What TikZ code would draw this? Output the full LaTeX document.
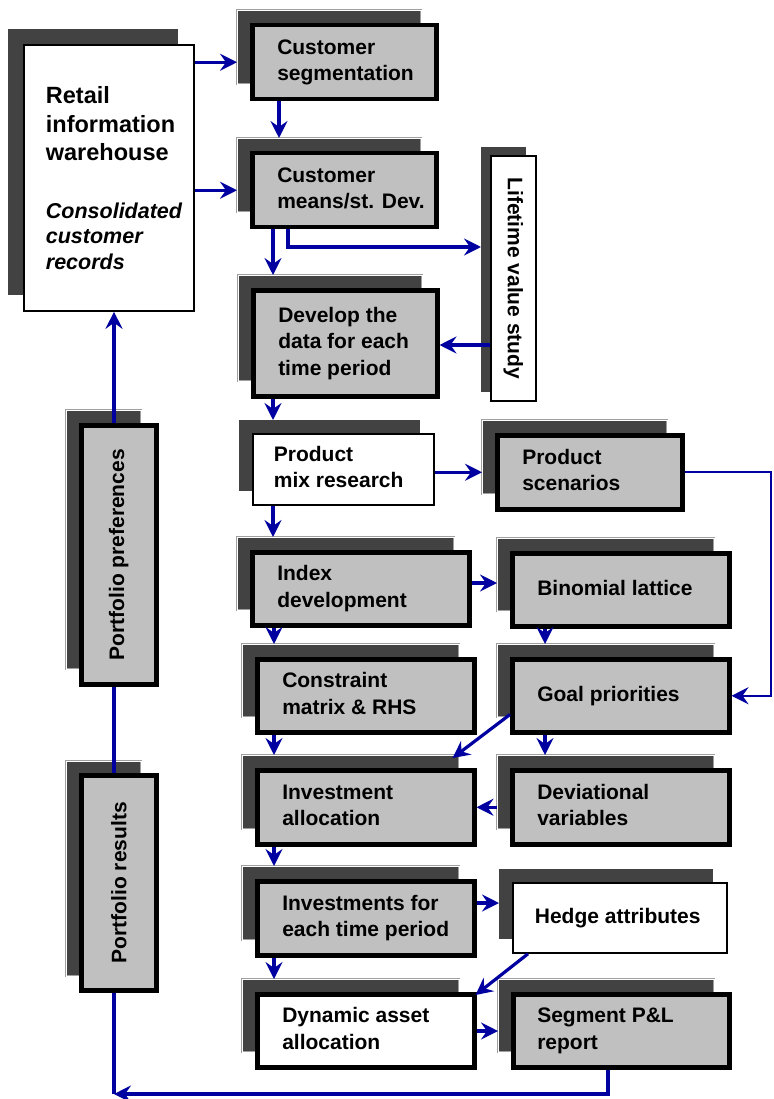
\documentclass[tikz,border=0pt]{standalone}
\usepackage{fontspec}
\setmainfont{Liberation Sans}
\usepackage{graphicx}
\usetikzlibrary{arrows.meta,calc}
\definecolor{navy}{RGB}{0,0,160}
\definecolor{boxgray}{RGB}{192,192,192}
\definecolor{shd}{RGB}{66,66,66}
\tikzset{
  txt/.style={font=\bfseries\fontsize{21}{26.5}\selectfont, inner ysep=0pt},
  gbox/.style={txt, draw=black, line width=4.5pt, fill=boxgray},
  wbox/.style={txt, draw=black, line width=1.8pt, fill=white},
  wboxk/.style={txt, draw=black, line width=4.5pt, fill=white},
  shp/.style={fill=shd, draw=none, inner sep=0pt},
  shl/.style={fill=shd, draw=gray!75, line width=0.6pt, double=white, double distance=0.8pt, inner sep=0pt},
  conn/.style={draw=navy, line width=3.2pt},
  thinconn/.style={draw=navy, line width=2.4pt},
  arr/.style={conn, -{Stealth[length=17pt,width=17pt,inset=6pt]}},
  thinarr/.style={thinconn, -{Stealth[length=17pt,width=17pt,inset=6pt]}}
}
% #1 name, #2 front style, #3 shadow style, #4 x, #5 y, #6 w, #7 h, #8 inset, #9 text
\newcommand\mkbox[9]{%
  \node[#3, minimum width=#6pt, minimum height=#7pt, anchor=north west] (#1s) at (#4-13,#5-13) {};
  \node[#2, minimum width=#6pt, minimum height=#7pt, inner xsep=#8pt, anchor=north west] (#1) at (#4,#5)
    {\makebox[\dimexpr #6pt-#8pt-#8pt\relax][l]{\begin{tabular}{@{}l@{}}#9\end{tabular}}};
}
\begin{document}
\begin{tikzpicture}[x=1pt,y=-1pt]
\useasboundingbox (0,0) rectangle (773,1099);

% warehouse
\node[shp, minimum width=170pt, minimum height=266pt, anchor=north west] (As) at (8,29) {};
\node[wbox, minimum width=170pt, minimum height=266pt, inner xsep=22pt, anchor=north west] (A) at (23,44)
  {\makebox[126pt][l]{\parbox{150pt}{\raggedright\fontsize{23.5}{28.5}\selectfont Retail\\information\\warehouse\par
   \vspace{32pt}\fontsize{21.5}{25.5}\selectfont\itshape Consolidated\\customer\\records\par}}};

\mkbox{B}{gbox}{shl}{250}{23}{184}{74}{25}{Customer\\segmentation}
\mkbox{C}{gbox}{shl}{250}{151}{184}{74}{25}{Customer\\means/st. Dev.}

% lifetime value study
\node[shp, minimum width=45pt, minimum height=245pt, anchor=north west] (Ds) at (481,147) {};
\node[wbox, minimum width=45pt, minimum height=245pt, anchor=north west] (D) at (490,155)
  {\rotatebox{-90}{Lifetime value study}};

\mkbox{E}{gbox}{shl}{251}{288}{184}{106}{25}{Develop the\\data for each\\time period}
\mkbox{F}{wbox}{shp}{252}{433}{181}{71}{21}{Product\\mix research}
\mkbox{G}{gbox}{shl}{495}{433}{185}{74}{25}{Product\\scenarios}
\mkbox{H}{gbox}{shl}{250}{550}{217}{73}{25}{Index\\development}
\mkbox{I}{gbox}{shl}{510}{551}{217}{73}{25}{Binomial lattice}
\mkbox{J}{gbox}{shl}{255}{657}{217}{73}{25}{Constraint\\matrix \& RHS}
\mkbox{K}{gbox}{shl}{510}{657}{217}{73}{25}{Goal priorities}
\mkbox{L}{gbox}{shl}{255}{768}{217}{74}{25}{Investment\\allocation}
\mkbox{M}{gbox}{shl}{510}{768}{217}{74}{25}{Deviational\\variables}
\mkbox{N}{gbox}{shl}{255}{879}{217}{74}{25}{Investments for\\each time period}
\mkbox{O}{wbox}{shp}{512}{882}{214}{70}{22}{Hedge attributes}
\mkbox{P}{wboxk}{shl}{255}{992}{217}{73}{25}{Dynamic asset\\allocation}
\mkbox{Q}{gbox}{shl}{511}{992}{216}{73}{24}{Segment P\&L\\report}

% portfolio boxes
\node[shl, minimum width=75pt, minimum height=259pt, anchor=north west] (Rs) at (66,410) {};
\node[gbox, minimum width=75pt, minimum height=259pt, anchor=north west] (R) at (79,423)
  {\rotatebox{90}{Portfolio preferences}};
\node[shl, minimum width=75pt, minimum height=215pt, anchor=north west] (Ss) at (66,761) {};
\node[gbox, minimum width=75pt, minimum height=215pt, anchor=north west] (S) at (79,773)
  {\rotatebox{90}{Portfolio results}};

% helper coordinates
\coordinate (c1) at (279,0);
\coordinate (c2) at (273,0);
\coordinate (c3) at (288,247);
\coordinate (c4) at (0,345);
\coordinate (c5) at (274,0);
\coordinate (c6) at (545,0);
\coordinate (cr) at (771,0);
\coordinate (r1) at (0,583);
\coordinate (r3) at (0,903);
\coordinate (r4) at (0,1031);
\coordinate (qx) at (608,0);
\coordinate (cb) at (114,1094);

% connectors
\draw[arr] (A.east |- B.west) -- (Bs.west |- B.west);
\draw[arr] (A.east |- C.west) -- (Cs.west |- C.west);
\draw[arr] (B.south -| c1) -- (Cs.north -| c1);
\draw[arr] (C.south -| c2) -- (Es.north -| c2);
\draw[arr] (C.south -| c3) -- (c3) -- (Ds.west |- c3);
\draw[arr] (D.west |- c4) -- (E.east |- c4);
\draw[arr] (E.south -| c2) -- (Fs.north -| c2);
\draw[arr] (F.east |- G.west) -- (Gs.west |- G.west);
\draw[arr] (F.south -| c2) -- (Hs.north -| c2);
\draw[thinarr] (G.east) -- (G.east -| cr) -- (K.east -| cr) -- (K.east);
\draw[arr] (H.east |- r1) -- (Is.west |- r1);
\draw[arr] (H.south -| c5) -- (Js.north -| c5);
\draw[arr] (I.south -| c6) -- (Ks.north -| c6);
\draw[arr] ($(K.south west)+(0,-20)$) -- ($(Ls.north east)+(-7,3)$);
\draw[arr] (K.south -| c6) -- (Ms.north -| c6);
\draw[arr] (Ms.west |- M.west) -- (L.east |- M.west);
\draw[arr] (J.south -| c5) -- (Ls.north -| c5);
\draw[arr] (L.south -| c5) -- (Ns.north -| c5);
\draw[arr] (N.east |- r3) -- (Os.west |- r3);
\draw[arr] (N.south -| c5) -- (Ps.north -| c5);
\draw[arr] ($(O.south west)+(16,0)$) -- ($(P.north east)+(-1,3)$);
\draw[arr] (P.east |- r4) -- (Qs.west |- r4);
\draw[arr] (Q.south -| qx) -- (cb -| qx) -- (cb);
\draw[conn] (S.south -| cb) -- (cb);
\draw[conn] (S.north -| cb) -- (R.south -| cb);
\draw[arr] (R.north -| cb) -- (A.south -| cb);
\end{tikzpicture}
\end{document}
